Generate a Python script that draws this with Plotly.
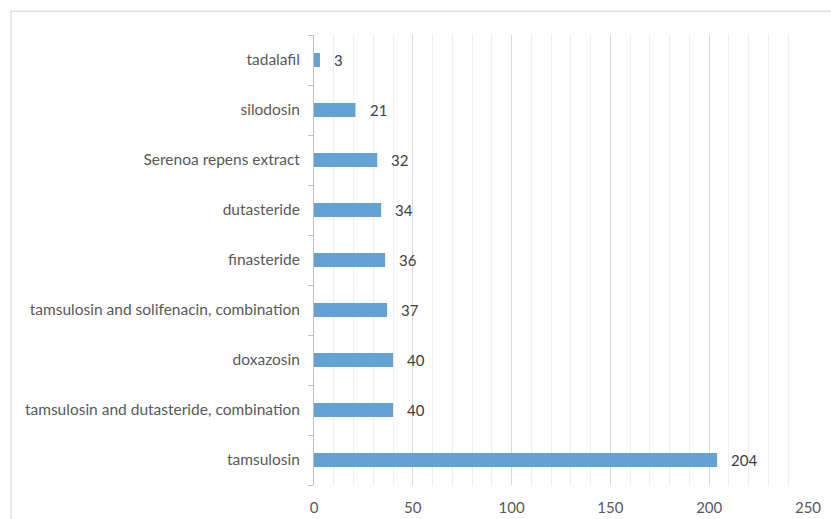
import plotly.graph_objects as go

# Prescription counts per medicine (bottom to top)
medicines = [
    "tamsulosin",
    "tamsulosin and dutasteride, combination",
    "doxazosin",
    "tamsulosin and solifenacin, combination",
    "finasteride",
    "dutasteride",
    "Serenoa repens extract",
    "silodosin",
    "tadalafil",
]
counts = [204, 40, 40, 37, 36, 34, 32, 21, 3]
x_ticks = [0, 50, 100, 150, 200, 250]

BAR = "#64a2d6"
TEXT = "#595959"
FONT = "Lato"

fig = go.Figure(
    go.Bar(
        y=medicines,
        x=counts,
        orientation="h",
        marker=dict(color=BAR, line=dict(width=0)),
        width=0.28,
        hoverinfo="x+y",
    )
)

# Value labels just beyond the bar ends
for name, v in zip(medicines, counts):
    fig.add_annotation(
        x=v, y=name, text=str(v), showarrow=False,
        xanchor="left", xshift=12,
        font=dict(family=FONT, size=15, color="#404040"),
    )

# Light outer frame around the chart
fig.add_shape(
    type="rect", xref="paper", yref="paper",
    x0=-0.6134, x1=1.2, y0=-0.2, y1=1.053,
    line=dict(color="#d9d9d9", width=1.2), fillcolor="rgba(0,0,0,0)",
    layer="below",
)

fig.update_layout(
    width=831, height=519,
    margin=dict(l=314, r=23, t=35, b=34, autoexpand=False),
    paper_bgcolor="white", plot_bgcolor="white",
    showlegend=False,
    bargap=0.72,
    font=dict(family=FONT, size=15.5, color=TEXT),
    xaxis=dict(
        range=[0, 250],
        tickvals=x_ticks,
        ticktext=[str(t) for t in x_ticks],
        showgrid=True, gridcolor="#d9d9d9", gridwidth=1,
        minor=dict(dtick=10, showgrid=True, gridcolor="#efefef", gridwidth=1),
        zeroline=False, showline=False,
        ticks="", ticklabelstandoff=12,
        tickfont=dict(family=FONT, size=15, color=TEXT),
        automargin=False,
        fixedrange=True,
    ),
    yaxis=dict(
        categoryorder="array", categoryarray=medicines,
        showline=True, linecolor="#bfbfbf", linewidth=1,
        ticks="outside", tickson="boundaries", ticklen=5,
        tickcolor="#bfbfbf", tickwidth=1,
        showgrid=False, zeroline=False,
        ticklabelstandoff=10,
        tickfont=dict(family=FONT, size=15.5, color=TEXT),
        automargin=False,
        fixedrange=True,
    ),
)

fig.write_html("out.html")
